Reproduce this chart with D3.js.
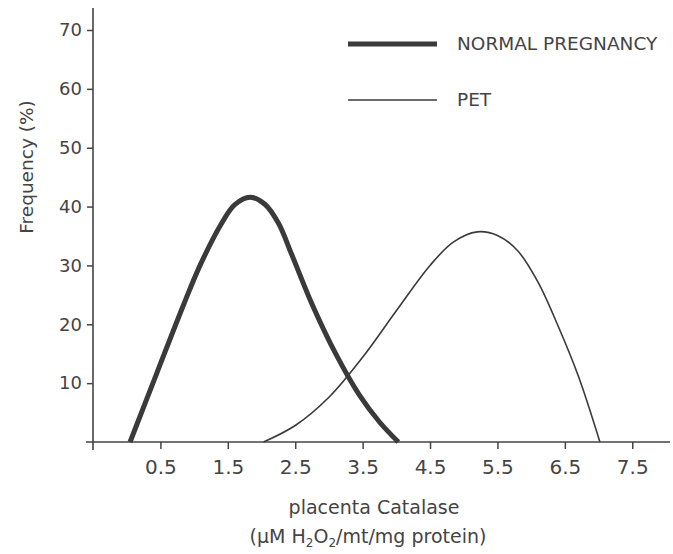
<!DOCTYPE html>
<html>
<head>
<meta charset="utf-8">
<script src="https://cdn.jsdelivr.net/npm/d3@7"></script>
<style>
  body { margin: 0; background: #fff; }
  text { font-family: 'DejaVu Sans', sans-serif; fill: #444; }
</style>
</head>
<body>
<div id="chart"></div>
<script>
'use strict';

// catalase value (x) and frequency % (y)
var normalX = [0.05, 0.45, 0.85, 1.1, 1.4, 1.6, 1.83, 2.05, 2.25, 2.45, 2.75, 3.1, 3.45, 3.75, 4.03];
var normalY = [0, 11.8, 23.5, 30.3, 37.0, 40.3, 41.6, 40.4, 37.2, 31.8, 23.4, 15.0, 8.0, 3.4, 0];
var petX = [2.03, 2.5, 3.0, 3.5, 4.0, 4.5, 4.85, 5.2, 5.5, 5.8, 6.1, 6.4, 6.7, 7.02];
var petY = [0, 2.8, 7.6, 14.4, 22.3, 30.0, 34.0, 35.7, 35.1, 32.5, 27.2, 19.7, 11.2, 0];
var xTicks = [0.5, 1.5, 2.5, 3.5, 4.5, 5.5, 6.5, 7.5];
var yTicks = [10, 20, 30, 40, 50, 60, 70];
var seriesNames = ['NORMAL PREGNANCY', 'PET'];

var W = 673, H = 554;
var ink = '#444';
var lineInk = '#3a3a3a';

var svg = d3.select('#chart').append('svg')
  .attr('width', W).attr('height', H);

var x = d3.scaleLinear().domain([-0.5, 8.06]).range([93, 670]);
var y = d3.scaleLinear().domain([0, 70]).range([442, 30]);

// axes
var xAxis = svg.append('g')
  .attr('transform', 'translate(0,' + y(0) + ')')
  .call(d3.axisBottom(x).tickValues(xTicks).tickSize(7).tickPadding(11).tickFormat(d3.format('.1f')));
xAxis.select('.domain').attr('d', 'M86,0H670');

var yAxis = svg.append('g')
  .attr('transform', 'translate(' + x(-0.5) + ',0)')
  .call(d3.axisLeft(y).tickValues(yTicks).tickSize(6).tickPadding(5));
yAxis.select('.domain').attr('d', 'M0,8V450');

svg.selectAll('.domain').attr('stroke', ink).attr('stroke-width', 1.6);
svg.selectAll('.tick line').attr('stroke', ink).attr('stroke-width', 1.5);
xAxis.selectAll('.tick text').attr('font-size', 20);
yAxis.selectAll('.tick text').attr('font-size', 18);
svg.selectAll('.tick text')
  .attr('fill', ink)
  .style('font-family', "'DejaVu Sans', sans-serif");

// axis titles
svg.append('text')
  .attr('transform', 'translate(33,167) rotate(-90)')
  .attr('text-anchor', 'middle')
  .attr('font-size', 18.5)
  .text('Frequency (%)');

svg.append('text')
  .attr('x', 374).attr('y', 514)
  .attr('text-anchor', 'middle')
  .attr('font-size', 19)
  .text('placenta Catalase');

var unit = svg.append('text')
  .attr('x', 368).attr('y', 543)
  .attr('text-anchor', 'middle')
  .attr('font-size', 19);
unit.append('tspan').text('(\u00B5M H');
unit.append('tspan').attr('font-size', 12).attr('dy', 4).text('2');
unit.append('tspan').attr('dy', -4).text('O');
unit.append('tspan').attr('font-size', 12).attr('dy', 4).text('2');
unit.append('tspan').attr('dy', -4).text('/mt/mg  protein)');

// curves
var line = d3.line()
  .x(function(d) { return x(d[0]); })
  .y(function(d) { return y(d[1]); })
  .curve(d3.curveCatmullRom.alpha(0.5));

var series = [
  { name: seriesNames[0], pts: d3.zip(normalX, normalY), width: 5 },
  { name: seriesNames[1], pts: d3.zip(petX, petY), width: 1.6 }
];

svg.selectAll('.curve')
  .data(series)
  .enter().append('path')
    .attr('class', 'curve')
    .attr('d', function(d) { return line(d.pts); })
    .attr('fill', 'none')
    .attr('stroke', lineInk)
    .attr('stroke-width', function(d) { return d.width; })
    .attr('stroke-linejoin', 'round');

// legend
var legend = svg.selectAll('.legend')
  .data(series)
  .enter().append('g')
    .attr('class', 'legend')
    .attr('transform', function(d, i) { return 'translate(348,' + (44 + i * 56) + ')'; });

legend.append('line')
  .attr('x1', 0).attr('x2', 89)
  .attr('stroke', lineInk)
  .attr('stroke-width', function(d) { return d.width; });

legend.append('text')
  .attr('x', 109).attr('y', 6)
  .attr('font-size', 18.5)
  .text(function(d) { return d.name; });
</script>
</body>
</html>
